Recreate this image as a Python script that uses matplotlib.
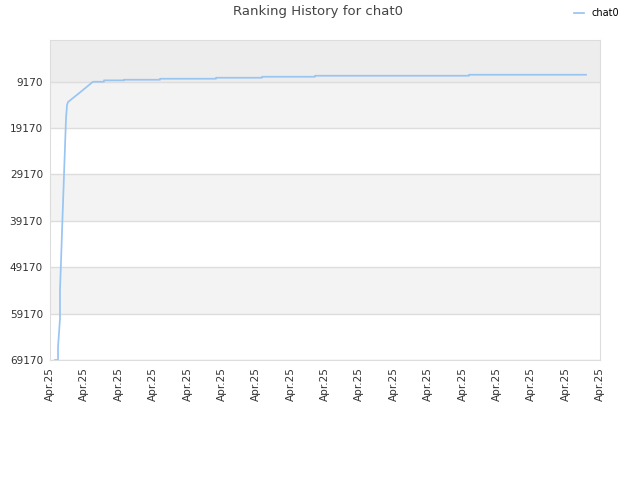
import matplotlib
matplotlib.use("Agg")
import matplotlib.pyplot as plt

# ranking data (x in tick units, rank values)
days = [0.145, 0.233, 0.233, 0.262, 0.291, 0.291, 0.32, 0.349, 0.378, 0.407,
        0.436, 0.465, 0.495, 0.524, 0.75, 1.0, 1.251, 1.571, 1.571, 2.153,
        2.153, 3.2, 3.2, 4.829, 4.829, 6.167, 6.167, 7.709, 7.709, 12.189,
        12.189, 15.593]
ranks = [69170, 69170, 66367, 63349, 60115, 54078, 48041, 41573, 35536, 29284,
         23248, 17195, 14176, 13545, 12200, 10700, 9170, 9170, 8868, 8868,
         8740, 8740, 8524, 8524, 8308, 8308, 8093, 8093, 7877, 7877,
         7661, 7661]

ytick_vals = [9170, 19170, 29170, 39170, 49170, 59170, 69170]
xtick_labels = ["Apr.25"] * 17

fig = plt.figure(figsize=(6.4, 4.8), dpi=100)
ax = fig.add_axes([50 / 640, 120 / 480, 550 / 640, 320 / 480])

y_top = 170
y_bot = 69170

# background bands
ax.axhspan(y_top, 9170, color="#ededed", zorder=0, lw=0)
for i in range(len(ytick_vals) - 1):
    if i % 2 == 0:
        ax.axhspan(ytick_vals[i], ytick_vals[i + 1], color="#f3f3f3", zorder=0, lw=0)
for v in ytick_vals:
    ax.axhline(v, color="#dddddd", lw=1, zorder=1)

ax.plot(days, ranks, color="#99c5f3", lw=1.25, zorder=3, label="chat0")

ax.set_xlim(0, 16)
ax.set_ylim(y_bot, y_top)
ax.set_yticks(ytick_vals)
ax.set_yticklabels([str(v) for v in ytick_vals], fontsize=7.6, color="#333333")
ax.set_xticks(range(17))
ax.set_xticklabels(xtick_labels, rotation=90, fontsize=7.6, color="#333333")
ax.tick_params(length=0, pad=5)
for s in ax.spines.values():
    s.set_color("#dddddd")

fig.text(318 / 640, 1 - 12 / 480, "Ranking History for chat0", ha="center", va="center",
         fontsize=9.5, color="#444444")
fig.legend(loc="center", bbox_to_anchor=(597 / 640, 1 - 13 / 480), frameon=False,
           fontsize=7, handlelength=1.0, handletextpad=0.8)

fig.savefig("out.png", dpi=100)
